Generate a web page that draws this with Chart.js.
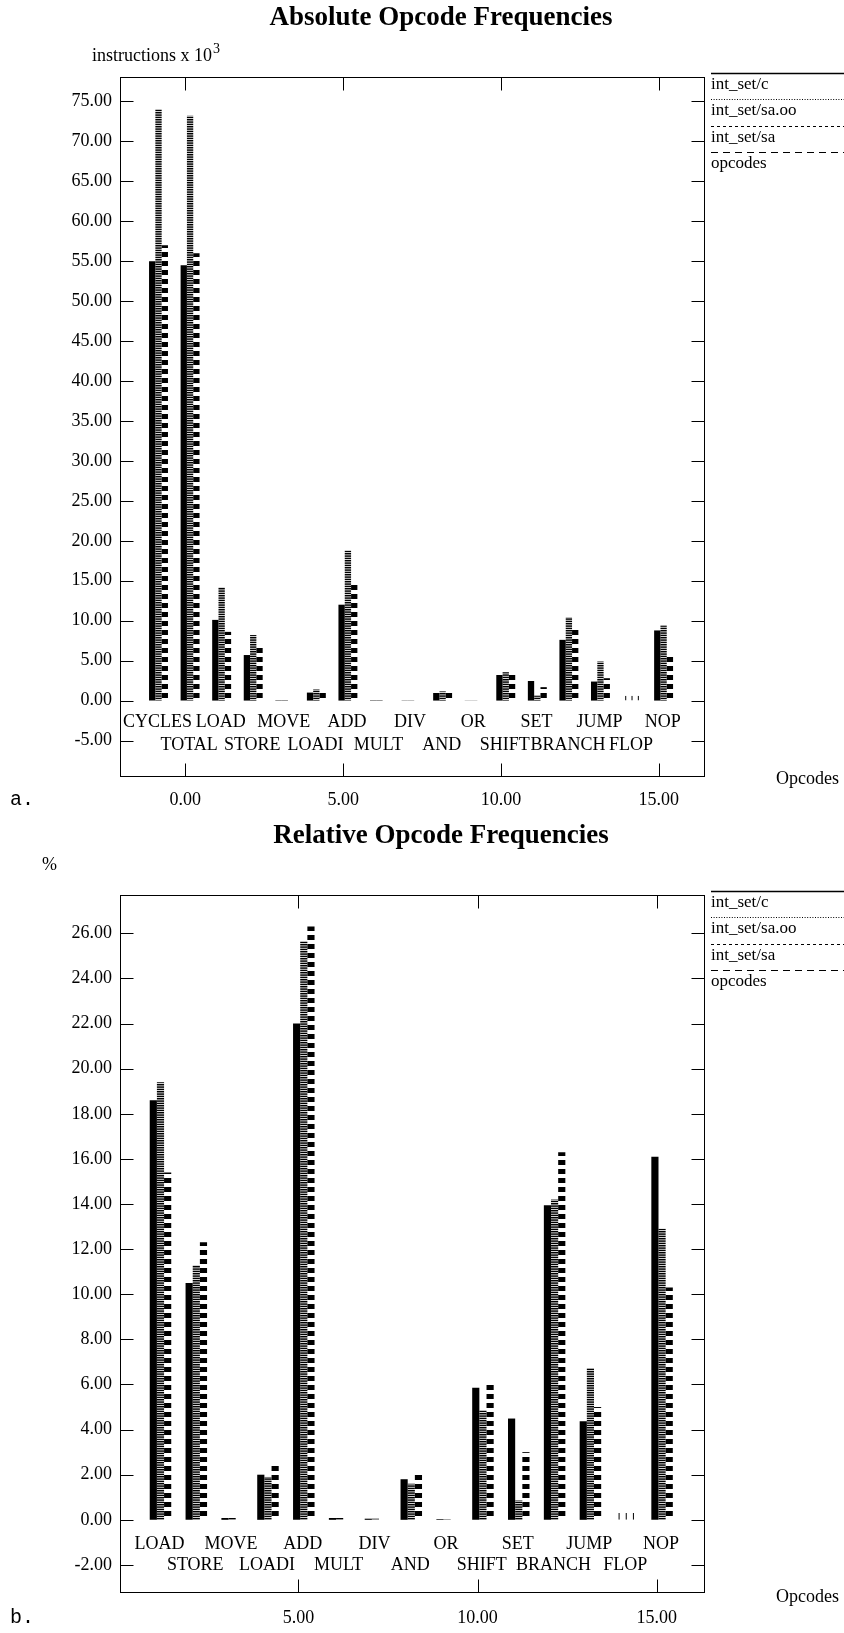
<!DOCTYPE html>
<html>
<head>
<meta charset="utf-8">
<title>Opcode Frequencies</title>
<script src="https://cdn.jsdelivr.net/npm/chart.js@4.4.1/dist/chart.umd.min.js"></script>
<style>
  html, body { margin: 0; padding: 0; background: #fff; }
  canvas { display: block; }
</style>
</head>
<body>
<canvas id="absChart" width="844" height="818"></canvas>
<canvas id="relChart" width="844" height="815"></canvas>
<script>
// ---- data -------------------------------------------------------------
const seriesNames = ["int_set/c", "int_set/sa.oo", "int_set/sa", "opcodes"];

const absOpcodes = ["CYCLES", "TOTAL", "LOAD", "STORE", "MOVE", "LOADI", "ADD", "MULT", "DIV",
                    "AND", "OR", "SHIFT", "SET", "BRANCH", "JUMP", "FLOP", "NOP"];
const absPos     = [-1, 0, 1, 2, 3, 4, 5, 6, 7, 8, 9, 10, 11, 12, 13, 14, 15];
// instructions x 10^3
const absC    = [55.0, 54.5, 10.1, 5.7, 0.05, 1.0, 12.0, 0.05, 0.03, 0.95, 0.02, 3.2, 2.45, 7.6, 2.38, 0.6, 8.78];
const absSaOO = [74.0, 73.2, 14.2, 8.2, 0.05, 1.4, 18.8, 0.05, 0.03, 1.15, 0.02, 3.55, 0.63, 10.4, 4.9, 0.6, 9.4];
const absSa   = [57.0, 56.0, 8.6, 6.9, 0.05, 1.4, 14.7, 0.05, 0.03, 1.1, 0.02, 3.4, 1.68, 9.1, 2.8, 0.6, 5.8];
const absXTicks = [0, 5, 10, 15];
const absYTicks = [-5, 0, 5, 10, 15, 20, 25, 30, 35, 40, 45, 50, 55, 60, 65, 70, 75];

const relOpcodes = ["LOAD", "STORE", "MOVE", "LOADI", "ADD", "MULT", "DIV",
                    "AND", "OR", "SHIFT", "SET", "BRANCH", "JUMP", "FLOP", "NOP"];
const relPos     = [1, 2, 3, 4, 5, 6, 7, 8, 9, 10, 11, 12, 13, 14, 15];
// percent of all instructions
const relC    = [18.6, 10.5, 0.08, 2.0, 22.0, 0.08, 0.05, 1.8, 0.03, 5.86, 4.49, 13.95, 4.37, 0.3, 16.1];
const relSaOO = [19.4, 11.3, 0.08, 1.9, 25.65, 0.08, 0.05, 1.6, 0.03, 4.86, 0.86, 14.2, 6.73, 0.3, 12.9];
const relSa   = [15.4, 12.3, 0.08, 2.5, 26.3, 0.08, 0.05, 2.05, 0.03, 6.08, 3.0, 16.3, 5.0, 0.3, 10.3];
const relXTicks = [5, 10, 15];
const relYTicks = [-2, 0, 2, 4, 6, 8, 10, 12, 14, 16, 18, 20, 22, 24, 26];

// opcodes that are drawn as hairline sticks instead of filled bars
const stickOpcodes = ["FLOP"];

// ---- look -------------------------------------------------------------
const SERIF = '"Liberation Serif", "Times New Roman", serif';
const MONO  = '"Liberation Mono", "DejaVu Sans Mono", monospace';
const PLOT_LEFT = 120, LEGEND_W = 140, PAD_LEFT = 38;
const TICK_LEN = 13;
const COL_SHIFT = [-0.05, 0.15, 0.35];   // bar centres relative to the opcode position
const COL_WIDTH = 0.2;                   // bar width in x units
const LABEL_SHIFT = 0.12;
const LEGEND_DASH = [[], [1, 1.6], [3, 3], [7, 5]];

// horizontal stripe fills: [period, [[y, h], ...]]
const STRIPES = {
  fine:   [7, [[0, 1.5], [2.33, 1.5], [4.67, 1.5]]],
  coarse: [9, [[0, 5]]]
};
const COL_FILL = [null, "fine", "coarse"];

function stripePattern(chart, kind) {
  chart.$stripes = chart.$stripes || {};
  if (!chart.$stripes[kind]) {
    const [period, bands] = STRIPES[kind];
    const tile = document.createElement("canvas");
    tile.width = 8; tile.height = period;
    const g = tile.getContext("2d");
    g.fillStyle = "#000";
    bands.forEach(([y, h]) => g.fillRect(0, y, 8, h));
    const p = chart.ctx.createPattern(tile, "repeat");
    const base = chart.scales.y.getPixelForValue(0);
    p.setTransform(new DOMMatrix().translate(0, base));
    chart.$stripes[kind] = p;
  }
  return chart.$stripes[kind];
}

// box, inward ticks, opcode names, captions and the line legend
const framePlugin = {
  id: "frame",
  afterDraw(chart, args, o) {
    const { ctx, chartArea: a, scales } = chart;
    const xs = scales.x, ys = scales.y;
    ctx.save();
    ctx.strokeStyle = "#000";
    ctx.lineWidth = 1;
    const L = Math.round(a.left) + 0.5, R = Math.round(a.right) + 0.5;
    const T = Math.round(a.top) + 0.5, B = Math.round(a.bottom) + 0.5;
    ctx.strokeRect(L, T, R - L, B - T);
    ctx.beginPath();
    ys.ticks.forEach(t => {
      const py = Math.round(ys.getPixelForValue(t.value)) + 0.5;
      ctx.moveTo(L, py); ctx.lineTo(L + TICK_LEN, py);
      ctx.moveTo(R - TICK_LEN, py); ctx.lineTo(R, py);
    });
    xs.ticks.forEach(t => {
      const px = Math.round(xs.getPixelForValue(t.value)) + 0.5;
      ctx.moveTo(px, B); ctx.lineTo(px, B - TICK_LEN);
      ctx.moveTo(px, T); ctx.lineTo(px, T + TICK_LEN);
    });
    ctx.stroke();

    // opcode names, two staggered rows under the zero line
    ctx.fillStyle = "#000";
    ctx.font = "18px " + SERIF;
    ctx.textAlign = "center";
    ctx.textBaseline = "middle";
    const base = ys.getPixelForValue(0);
    const meta = chart.getDatasetMeta(3);
    meta.data.forEach((pt, i) => {
      ctx.fillText(o.names[i], pt.x, base + (i % 2 ? o.row2 : o.row1));
    });

    // axis captions
    ctx.textAlign = "left";
    ctx.fillText(o.unit, o.unitX, o.unitY);
    if (o.unitSup) {
      const w = ctx.measureText(o.unit).width;
      ctx.font = "14px " + SERIF;
      ctx.fillText(o.unitSup, o.unitX + w + 1, o.unitY - 7);
      ctx.font = "18px " + SERIF;
    }
    ctx.fillText("Opcodes", 776, 779);
    ctx.font = "20px " + MONO;
    ctx.fillText(o.tag, 10, 800);

    // legend: a rule above each series name, running to the page edge
    ctx.font = "17px " + SERIF;
    chart.data.datasets.forEach((ds, i) => {
      const ly = Math.round(73 + i * 26.3) + 0.5;
      ctx.beginPath();
      ctx.setLineDash(LEGEND_DASH[i]);
      ctx.lineWidth = i === 0 ? 1.5 : 1;
      ctx.moveTo(711, ly); ctx.lineTo(844, ly);
      ctx.stroke();
      ctx.setLineDash([]);
      ctx.fillText(ds.label, 711, ly + 11.5);
    });
    ctx.restore();
  }
};

function makeChart(id, o) {
  const unitPx = (844 - LEGEND_W - PLOT_LEFT) / (o.xMax - o.xMin);
  const barPx = unitPx * COL_WIDTH;
  const isStick = c => stickOpcodes.includes(o.names[c.dataIndex]);

  const barSets = o.series.map((vals, s) => ({
    label: seriesNames[s],
    data: vals.map((v, i) => ({ x: o.pos[i] + COL_SHIFT[s], y: v })),
    backgroundColor: c => (COL_FILL[s] && !isStick(c)) ? stripePattern(c.chart, COL_FILL[s]) : "#000",
    borderColor: "rgba(0,0,0,0)",
    borderWidth: c => isStick(c)
      ? { left: (barPx - 1) / 2, right: (barPx - 1) / 2, top: 0, bottom: 0 } : 0,
    barThickness: barPx,
    grouped: false,
    inflateAmount: 0
  }));

  const labelSet = {
    type: "scatter",
    label: seriesNames[3],
    data: o.names.map((n, i) => ({ x: o.pos[i] + LABEL_SHIFT, y: 0 })),
    pointRadius: 0,
    pointHitRadius: 0
  };

  return new Chart(document.getElementById(id), {
    type: "bar",
    data: { datasets: [...barSets, labelSet] },
    options: {
      responsive: false,
      animation: false,
      devicePixelRatio: 1,
      layout: { padding: { left: PAD_LEFT, right: 0, top: 0, bottom: 0 } },
      scales: {
        x: {
          type: "linear", min: o.xMin, max: o.xMax, offset: false,
          grid: { display: false, drawTicks: false }, border: { display: false },
          afterBuildTicks: s => { s.ticks = o.xTicks.map(v => ({ value: v })); },
          afterFit: s => { s.height = o.bottomH; },
          ticks: { autoSkip: false, maxRotation: 0, padding: o.xPad, color: "#000",
                   font: { family: SERIF, size: 18 }, callback: v => Number(v).toFixed(2) }
        },
        y: {
          type: "linear", min: o.yMin, max: o.yMax,
          grid: { display: false, drawTicks: false }, border: { display: false },
          afterBuildTicks: s => { s.ticks = o.yTicks.map(v => ({ value: v })); },
          afterFit: s => { s.width = PLOT_LEFT - PAD_LEFT; },
          ticks: { autoSkip: false, padding: 8, color: "#000",
                   font: { family: SERIF, size: 18 }, callback: v => Number(v).toFixed(2) }
        },
        side: {
          type: "linear", position: "right", display: true,
          grid: { display: false }, border: { display: false }, ticks: { display: false },
          afterFit: s => { s.width = LEGEND_W; }
        }
      },
      plugins: {
        legend: { display: false },
        tooltip: { enabled: false },
        title: {
          display: true, text: o.title, color: "#000",
          font: { family: SERIF, size: 27, weight: "bold" },
          padding: { top: 2, bottom: 42.6 }
        },
        frame: {
          names: o.names, unit: o.unit, unitSup: o.unitSup, unitX: o.unitX, unitY: o.unitY,
          tag: o.tag, row1: o.row1, row2: o.row2
        }
      }
    },
    plugins: [framePlugin]
  });
}

makeChart("absChart", {
  title: "Absolute Opcode Frequencies",
  unit: "instructions x 10", unitSup: "3", unitX: 92, unitY: 56,
  tag: "a.",
  names: absOpcodes, pos: absPos, series: [absC, absSaOO, absSa],
  xMin: -2.07, xMax: 16.43, yMin: -9.44, yMax: 78.05,
  xTicks: absXTicks, yTicks: absYTicks,
  bottomH: 42, xPad: 13, row1: 22, row2: 45
});

makeChart("relChart", {
  title: "Relative Opcode Frequencies",
  unit: "%", unitSup: "", unitX: 42, unitY: 47,
  tag: "b.",
  names: relOpcodes, pos: relPos, series: [relC, relSaOO, relSa],
  xMin: 0.02, xMax: 16.32, yMin: -3.2, yMax: 27.7,
  xTicks: relXTicks, yTicks: relYTicks,
  bottomH: 41, xPad: 15, row1: 24, row2: 45
});
</script>
</body>
</html>
